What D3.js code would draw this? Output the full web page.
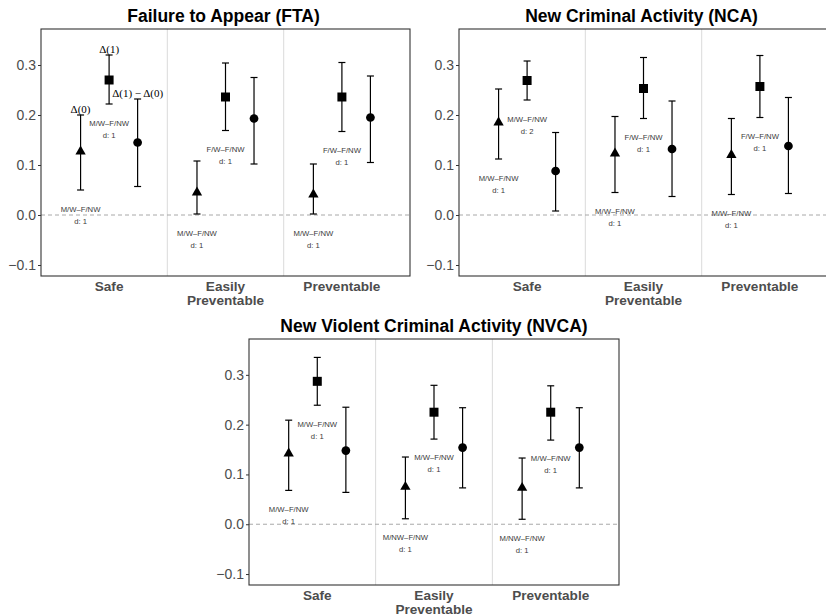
<!DOCTYPE html>
<html lang="en">
<head>
    <meta charset="UTF-8">
    <title>Delta estimates by outcome</title>
    <style>
        body {
            margin: 0;
            background: #fff;
        }
        svg text {
            font-family: "Liberation Sans", Arial, sans-serif;
        }
    </style>
</head>
<body>
    <div id="chart"></div>

    <script src="https://d3js.org/d3.v7.min.js"></script>
    <script>
        // categories and tick labels
        const categories = ["Safe", "Easily Preventable", "Preventable"];
        const categoryLines = [["Safe"], ["Easily", "Preventable"], ["Preventable"]];
        const estimands = ["Δ(0)", "Δ(1)", "Δ(1) − Δ(0)"];
        const yTicks = [-0.1, 0.0, 0.1, 0.2, 0.3];

        // FTA: one row per category, columns = Δ(0), Δ(1), Δ(1)-Δ(0)
        const ftaEst = [[0.127, 0.270, 0.145], [0.045, 0.236, 0.193], [0.041, 0.236, 0.195]];
        const ftaLo  = [[0.050, 0.222, 0.057], [0.002, 0.169, 0.102], [0.002, 0.167, 0.105]];
        const ftaHi  = [[0.200, 0.320, 0.232], [0.108, 0.304, 0.275], [0.102, 0.305, 0.278]];
        const ftaPairs = [["M/W–F/NW", "M/W–F/NW"], ["M/W–F/NW", "F/W–F/NW"], ["M/W–F/NW", "F/W–F/NW"]];
        const ftaD = [[1, 1], [1, 1], [1, 1]];

        // NCA
        const ncaEst = [[0.185, 0.269, 0.088], [0.123, 0.253, 0.132], [0.120, 0.257, 0.138]];
        const ncaLo  = [[0.112, 0.230, 0.008], [0.045, 0.193, 0.037], [0.041, 0.195, 0.043]];
        const ncaHi  = [[0.252, 0.308, 0.165], [0.197, 0.315, 0.228], [0.193, 0.319, 0.235]];
        const ncaPairs = [["M/W–F/NW", "M/W–F/NW"], ["M/W–F/NW", "F/W–F/NW"], ["M/W–F/NW", "F/W–F/NW"]];
        const ncaD = [[1, 2], [1, 1], [1, 1]];

        // NVCA
        const nvcaEst = [[0.142, 0.287, 0.148], [0.075, 0.225, 0.154], [0.073, 0.225, 0.154]];
        const nvcaLo  = [[0.068, 0.239, 0.064], [0.011, 0.171, 0.073], [0.010, 0.169, 0.073]];
        const nvcaHi  = [[0.209, 0.335, 0.235], [0.135, 0.279, 0.234], [0.133, 0.278, 0.234]];
        const nvcaPairs = [["M/W–F/NW", "M/W–F/NW"], ["M/NW–F/NW", "M/W–F/NW"], ["M/NW–F/NW", "M/W–F/NW"]];
        const nvcaD = [[1, 1], [1, 1], [1, 1]];

        const panels = [
            {title: "Failure to Appear (FTA)", est: ftaEst, lo: ftaLo, hi: ftaHi, pairs: ftaPairs, d: ftaD,
             box: {x0: 41, x1: 410, y0: 29, y1: 276}, titleShift: -2, annotate: true},
            {title: "New Criminal Activity (NCA)", est: ncaEst, lo: ncaLo, hi: ncaHi, pairs: ncaPairs, d: ncaD,
             box: {x0: 459, x1: 828, y0: 29, y1: 276}, titleShift: -2, annotate: false},
            {title: "New Violent Criminal Activity (NVCA)", est: nvcaEst, lo: nvcaLo, hi: nvcaHi, pairs: nvcaPairs, d: nvcaD,
             box: {x0: 249, x1: 619, y0: 339, y1: 585}, titleShift: 0, annotate: false}
        ];

        const W = 826, H = 616;
        const labelGap = 0.05;   // comparison labels sit this far below the lower bound
        const shapes = [d3.symbolTriangle, d3.symbolSquare, d3.symbolCircle];
        const shapeSizes = [46, 81, 60];

        const svg = d3.select("#chart").append("svg")
            .attr("width", W)
            .attr("height", H);

        panels.forEach(p => {
            const b = p.box;
            const g = svg.append("g");

            const x = d3.scalePoint()
                .domain(categories)
                .range([b.x0, b.x1])
                .padding(0.585);
            const step = x.step();
            const dodge = [-0.245 * step, 0, 0.245 * step];

            const y = d3.scaleLinear()
                .domain([-0.122, 0.372])
                .range([b.y1, b.y0]);

            // separators between categories
            for (let i = 1; i < categories.length; i++) {
                const xs = (x(categories[i - 1]) + x(categories[i])) / 2;
                g.append("line")
                    .attr("x1", xs).attr("x2", xs)
                    .attr("y1", b.y0).attr("y2", b.y1)
                    .attr("stroke", "#dadada")
                    .attr("stroke-width", 1);
            }

            // zero reference
            g.append("line")
                .attr("x1", b.x0).attr("x2", b.x1)
                .attr("y1", y(0)).attr("y2", y(0))
                .attr("stroke", "#a8a8a8")
                .attr("stroke-width", 1)
                .attr("stroke-dasharray", "4,3");

            // y axis
            const yAxis = g.append("g")
                .attr("transform", `translate(${b.x0},0)`)
                .call(d3.axisLeft(y).tickValues(yTicks).tickSize(3).tickPadding(2)
                    .tickFormat(v => d3.format(".1f")(v).replace("-", "−")));
            yAxis.select(".domain").remove();
            yAxis.selectAll(".tick line").attr("stroke", "#333");
            yAxis.selectAll(".tick text")
                .attr("fill", "#4d4d4d")
                .style("font-size", "14px");

            // error bars, points and comparison labels
            categories.forEach((c, ci) => {
                for (let k = 0; k < 3; k++) {
                    const xc = x(c) + dodge[k];
                    g.append("line")
                        .attr("x1", xc).attr("x2", xc)
                        .attr("y1", y(p.lo[ci][k])).attr("y2", y(p.hi[ci][k]))
                        .attr("stroke", "#000").attr("stroke-width", 1.2);
                    [p.lo[ci][k], p.hi[ci][k]].forEach(v => {
                        g.append("line")
                            .attr("x1", xc - 3.5).attr("x2", xc + 3.5)
                            .attr("y1", y(v)).attr("y2", y(v))
                            .attr("stroke", "#000").attr("stroke-width", 1.2);
                    });
                    g.append("path")
                        .attr("d", d3.symbol().type(shapes[k]).size(shapeSizes[k])())
                        .attr("transform", `translate(${xc},${y(p.est[ci][k])})`)
                        .attr("fill", "#000");
                }
                // labels under Δ(0) and Δ(1)
                for (let k = 0; k < 2; k++) {
                    const xc = x(c) + dodge[k];
                    const yc = y(p.lo[ci][k] - labelGap);
                    g.append("text")
                        .attr("x", xc).attr("y", yc - 6)
                        .attr("text-anchor", "middle")
                        .attr("dominant-baseline", "central")
                        .attr("fill", "#3a3a3a")
                        .style("font-size", "7.7px")
                        .text(p.pairs[ci][k]);
                    g.append("text")
                        .attr("x", xc).attr("y", yc + 6)
                        .attr("text-anchor", "middle")
                        .attr("dominant-baseline", "central")
                        .attr("fill", "#3a3a3a")
                        .style("font-size", "7.7px")
                        .text("d: " + p.d[ci][k]);
                }
            });

            // estimand names over the first category
            if (p.annotate) {
                for (let k = 0; k < 3; k++) {
                    g.append("text")
                        .attr("x", x(categories[0]) + dodge[k])
                        .attr("y", y(p.hi[0][k]) - 2.5)
                        .attr("text-anchor", "middle")
                        .attr("fill", "#000")
                        .style("font-family", "'Liberation Serif', 'DejaVu Serif', serif")
                        .style("font-size", "11px")
                        .text(estimands[k]);
                }
            }

            // panel border
            g.append("rect")
                .attr("x", b.x0).attr("y", b.y0)
                .attr("width", b.x1 - b.x0).attr("height", b.y1 - b.y0)
                .attr("fill", "none")
                .attr("stroke", "#333")
                .attr("stroke-width", 1.1);

            // category labels
            categories.forEach((c, ci) => {
                categoryLines[ci].forEach((line, li) => {
                    g.append("text")
                        .attr("x", x(c))
                        .attr("y", b.y1 + 10 + li * 14.5)
                        .attr("text-anchor", "middle")
                        .attr("dominant-baseline", "central")
                        .attr("fill", "#4d4d4d")
                        .style("font-size", "13.6px")
                        .style("font-weight", "bold")
                        .text(line);
                });
            });

            // title
            g.append("text")
                .attr("x", (b.x0 + b.x1) / 2 + p.titleShift)
                .attr("y", b.y0 - 13)
                .attr("text-anchor", "middle")
                .attr("dominant-baseline", "central")
                .attr("fill", "#000")
                .style("font-size", "17.5px")
                .style("font-weight", "bold")
                .text(p.title);
        });
    </script>
</body>
</html>
